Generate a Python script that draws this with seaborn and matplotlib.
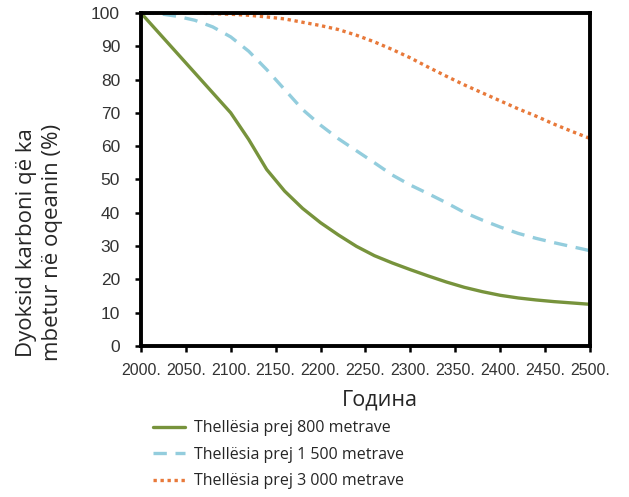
import seaborn as sns
import matplotlib.pyplot as plt
import pandas as pd
from matplotlib.ticker import FuncFormatter, MultipleLocator

years = [2000, 2020, 2040, 2060, 2080, 2100, 2120, 2140, 2160, 2180, 2200, 2220, 2240,
         2260, 2280, 2300, 2320, 2340, 2360, 2380, 2400, 2420, 2440, 2460, 2480, 2500]
depth_800 = [100, 94, 88, 82, 76, 70, 62, 53, 46.5, 41.3, 37, 33.3, 29.9,
             27.1, 24.9, 22.9, 21, 19.2, 17.6, 16.3, 15.2, 14.4, 13.8, 13.3, 12.9, 12.5]
depth_1500 = [100, 99.8, 99, 97.8, 95.8, 92.8, 88.5, 83, 77, 71, 66.3, 62.2, 58.6,
              55, 51.3, 48.3, 45.7, 43, 40.1, 37.8, 35.7, 33.8, 32.3, 31, 29.8, 28.6]
depth_3000 = [100, 100, 100, 100, 99.8, 99.6, 99.3, 98.8, 98.2, 97.2, 96.2, 95, 93.3,
              91.3, 89, 86.5, 83.7, 81, 78.4, 76, 73.6, 71.2, 69, 66.6, 64.4, 62.3]
labels = ['Thellësia prej 800 metrave', 'Thellësia prej 1 500 metrave',
          'Thellësia prej 3 000 metrave']

df = pd.DataFrame({'year': years, 'd800': depth_800, 'd1500': depth_1500, 'd3000': depth_3000})

sns.set_style('white')
fig = plt.figure(figsize=(6.29, 4.97), dpi=100)
ax = fig.add_axes([0.224, 0.304, 0.714, 0.670])

sns.lineplot(data=df, x='year', y='d800', ax=ax, color='#77933C', lw=2.4,
             linestyle='-', label=labels[0], legend=False)
sns.lineplot(data=df, x='year', y='d1500', ax=ax, color='#93CDDD', lw=2.4,
             linestyle=(0, (4, 2.6)), label=labels[1], legend=False)
sns.lineplot(data=df, x='year', y='d3000', ax=ax, color='#E8793A', lw=2.4,
             linestyle=(0, (1, 1.1)), label=labels[2], legend=False)

ax.set_xlim(2000, 2500)
ax.set_ylim(0, 100)
ax.xaxis.set_major_locator(MultipleLocator(50))
ax.yaxis.set_major_locator(MultipleLocator(10))
ax.xaxis.set_major_formatter(FuncFormatter(lambda v, p: f'{int(v)}.'))

for s in ax.spines.values():
    s.set_color('black')
    s.set_linewidth(2.8)
ax.tick_params(axis='both', direction='out', length=4, width=1.8, color='black',
               bottom=True, left=True, labelcolor='#333333')
ax.tick_params(axis='x', pad=8)
ax.tick_params(axis='y', pad=11)
for t in ax.get_xticklabels():
    t.set_fontfamily('Liberation Sans')
    t.set_fontsize(11.5)
for t in ax.get_yticklabels():
    t.set_fontfamily('Liberation Sans')
    t.set_fontsize(12.5)

ax.set_xlabel('Година', fontfamily='Open Sans', fontsize=15.5, va='center')
ax.xaxis.set_label_coords(0.532, -0.162)
ax.set_ylabel('Dyoksid karboni që ka\nmbetur në oqeanin (%)', fontfamily='Open Sans',
              fontsize=16, linespacing=1.3, va='center')
ax.yaxis.set_label_coords(-0.225, 0.31)

leg = fig.legend(loc='upper left', bbox_to_anchor=(0.243, 0.154), frameon=False,
                 prop={'family': 'Open Sans', 'size': 11.5}, handlelength=2.0,
                 labelspacing=0.65, handletextpad=0.6, borderpad=0, borderaxespad=0)

fig.savefig('out.png', dpi=100)
